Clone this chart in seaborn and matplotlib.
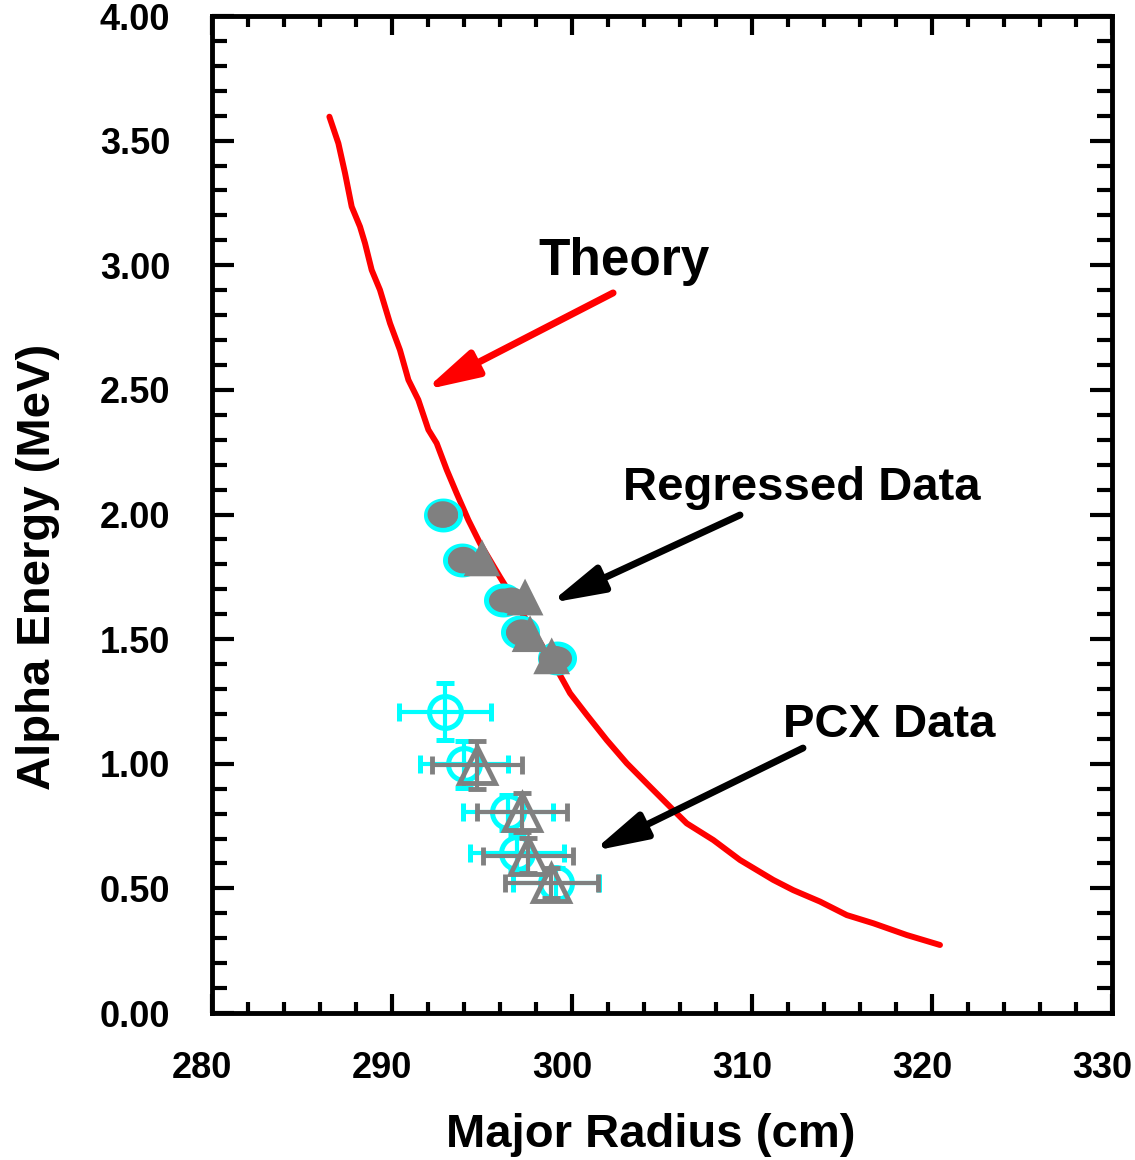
import numpy as np
import pandas as pd
import matplotlib
matplotlib.use("Agg")
import matplotlib.pyplot as plt
from matplotlib.path import Path
from matplotlib.ticker import MultipleLocator, FormatStrFormatter
import matplotlib.transforms as mtransforms
import seaborn as sns

# ---------------- data ----------------
theory_r = [286.52, 287.02, 287.39, 287.76, 288.22, 288.50, 288.87, 289.33, 289.89,
            290.44, 290.91, 291.46, 292.02, 292.48, 293.04, 293.59, 294.24, 294.89,
            296.00, 297.50, 298.40, 299.33, 299.89, 300.82, 301.93, 303.04, 304.33,
            305.63, 306.37, 307.85, 309.33, 311.18, 312.29, 313.78, 315.26, 316.74,
            318.59, 320.44]
theory_e = [3.596, 3.489, 3.369, 3.235, 3.155, 3.088, 2.981, 2.901, 2.767,
            2.660, 2.540, 2.460, 2.340, 2.286, 2.179, 2.085, 1.978, 1.884,
            1.749, 1.572, 1.466, 1.356, 1.283, 1.196, 1.095, 1.002, 0.908,
            0.814, 0.761, 0.694, 0.614, 0.534, 0.493, 0.447, 0.393, 0.360,
            0.313, 0.273]

# regressed data
reg_c_r = [292.82, 293.87, 296.18, 297.11, 299.15]
reg_c_e = [2.000, 1.817, 1.657, 1.530, 1.423]
reg_g_r = [292.82, 293.96, 296.65, 297.20, 299.00]
reg_g_e = [2.000, 1.817, 1.654, 1.526, 1.420]
reg_t_r = [295.00, 297.39, 297.67, 298.87]
reg_t_e = [1.826, 1.669, 1.522, 1.433]

# PCX data
pcx_c_r = [292.94, 294.00, 296.46, 296.95, 299.10]
pcx_c_e = [1.209, 0.998, 0.805, 0.644, 0.520]
pcx_c_xerr = [2.55, 2.45, 2.50, 2.60, 2.40]
pcx_c_yerr = [0.115, 0.095, 0.070, 0.070, 0.060]
pcx_t_r = [294.74, 297.24, 297.54, 298.85]
pcx_t_e = [0.995, 0.805, 0.631, 0.522]
pcx_t_xerr = [2.50, 2.50, 2.50, 2.60]
pcx_t_yerr = [0.095, 0.077, 0.070, 0.060]

x_ticks = [280, 290, 300, 310, 320, 330]
y_ticks = [0.0, 0.5, 1.0, 1.5, 2.0, 2.5, 3.0, 3.5, 4.0]

# ---------------- style ----------------
sns.set_style("ticks")
plt.rcParams['font.family'] = ['Liberation Sans', 'DejaVu Sans']
plt.rcParams['font.weight'] = 'bold'
plt.rcParams['text.color'] = 'black'
plt.rcParams['axes.labelcolor'] = 'black'
plt.rcParams['xtick.color'] = 'black'
plt.rcParams['ytick.color'] = 'black'

CYAN = '#00FFFF'
GRAY = '#808080'
RED = '#FF0000'

fig = plt.figure(figsize=(11.35, 11.6), dpi=100)
ax = fig.add_axes([0.1868, 0.1267, 0.7930, 0.8595])

# theory line
theory = pd.DataFrame({'r': theory_r, 'e': theory_e})
sns.lineplot(data=theory, x='r', y='e', sort=False, color=RED, lw=4.3, ax=ax, zorder=2)

# ellipse marker path
t = np.linspace(0, 2 * np.pi, 73)
def ellipse(aspect):
    verts = np.column_stack([np.cos(t), aspect * np.sin(t)])
    codes = [Path.MOVETO] + [Path.LINETO] * (len(verts) - 2) + [Path.CLOSEPOLY]
    return Path(verts, codes)

ell_c = ellipse(0.85)
ell_g = ellipse(0.87)

# PCX data with error bars
ax.errorbar(pcx_c_r, pcx_c_e, xerr=pcx_c_xerr, yerr=pcx_c_yerr, fmt='o',
            ms=23, mfc='none', mec=CYAN, mew=3.6, ecolor=CYAN, elinewidth=3,
            capsize=6.5, capthick=3, zorder=3)
ax.errorbar(pcx_t_r, pcx_t_e, xerr=pcx_t_xerr, yerr=pcx_t_yerr, fmt='^',
            ms=25.5, mfc='none', mec=GRAY, mew=3.5, ecolor=GRAY, elinewidth=3,
            capsize=6.5, capthick=3, zorder=4)

# regressed data
sns.scatterplot(x=reg_c_r, y=reg_c_e, marker=ell_c, s=24.5 ** 2, color=GRAY,
                edgecolor=CYAN, linewidth=3.6, ax=ax, zorder=5)
sns.scatterplot(x=reg_g_r, y=reg_g_e, marker=ell_g, s=22 ** 2, color=GRAY,
                edgecolor='none', linewidth=0, ax=ax, zorder=6)
sns.scatterplot(x=reg_t_r, y=reg_t_e, marker='^', s=26.5 ** 2, color=GRAY,
                edgecolor='none', linewidth=0, ax=ax, zorder=7)

# annotations
astyle = '-|>,head_length=1.6,head_width=0.42'
ax.annotate('', xy=(291.83, 2.50), xytext=(302.28, 2.889),
            arrowprops=dict(arrowstyle=astyle, lw=5, color=RED, mutation_scale=20,
                            shrinkA=0, shrinkB=0), zorder=8)
ax.annotate('', xy=(298.78, 1.645), xytext=(309.33, 1.998),
            arrowprops=dict(arrowstyle=astyle, lw=5, color='black', mutation_scale=20,
                            shrinkA=0, shrinkB=0), zorder=8)
ax.annotate('', xy=(301.17, 0.650), xytext=(312.83, 1.063),
            arrowprops=dict(arrowstyle=astyle, lw=5, color='black', mutation_scale=20,
                            shrinkA=0, shrinkB=0), zorder=8)
ax.text(302.89, 2.961, 'Theory', fontsize=37, fontweight='bold',
        ha='center', va='baseline', color='black')
ax.text(312.78, 2.058, 'Regressed Data', fontsize=34, fontweight='bold',
        ha='center', va='baseline', color='black')
ax.text(317.61, 1.107, 'PCX Data', fontsize=34, fontweight='bold',
        ha='center', va='baseline', color='black')

# axes
ax.set_xlim(280, 330)
ax.set_ylim(0, 4)
ax.set_xticks(x_ticks)
ax.set_yticks(y_ticks)
ax.xaxis.set_minor_locator(MultipleLocator(2))
ax.yaxis.set_minor_locator(MultipleLocator(0.1))
ax.yaxis.set_major_formatter(FormatStrFormatter('%.2f'))
ax.set_xticklabels([str(v) for v in x_ticks])

for s in ax.spines.values():
    s.set_visible(True)
    s.set_linewidth(3.5)
    s.set_color('black')

ax.tick_params(axis='both', which='both', direction='in', top=True, right=True,
               width=3, color='black', labelcolor='black')
ax.tick_params(axis='x', which='major', length=14, pad=27, labelsize=26)
ax.tick_params(axis='x', which='minor', length=8)
ax.tick_params(axis='y', which='major', length=16, pad=30, labelsize=26)
ax.tick_params(axis='y', which='minor', length=11)
for lab in ax.get_xticklabels() + ax.get_yticklabels():
    lab.set_fontweight('bold')

offset = mtransforms.ScaledTranslation(-10 / 100, 0, fig.dpi_scale_trans)
for lab in ax.get_xticklabels():
    lab.set_transform(lab.get_transform() + offset)

ax.set_xlabel('Major Radius (cm)', fontsize=34, fontweight='bold', va='center',
              color='black')
ax.xaxis.set_label_coords(0.487, -0.122)
ax.set_ylabel('Alpha Energy (MeV)', fontsize=34, fontweight='bold', va='center',
              color='black')
ax.yaxis.set_label_coords(-0.193, 0.447)

fig.savefig('out.png', dpi=100)
